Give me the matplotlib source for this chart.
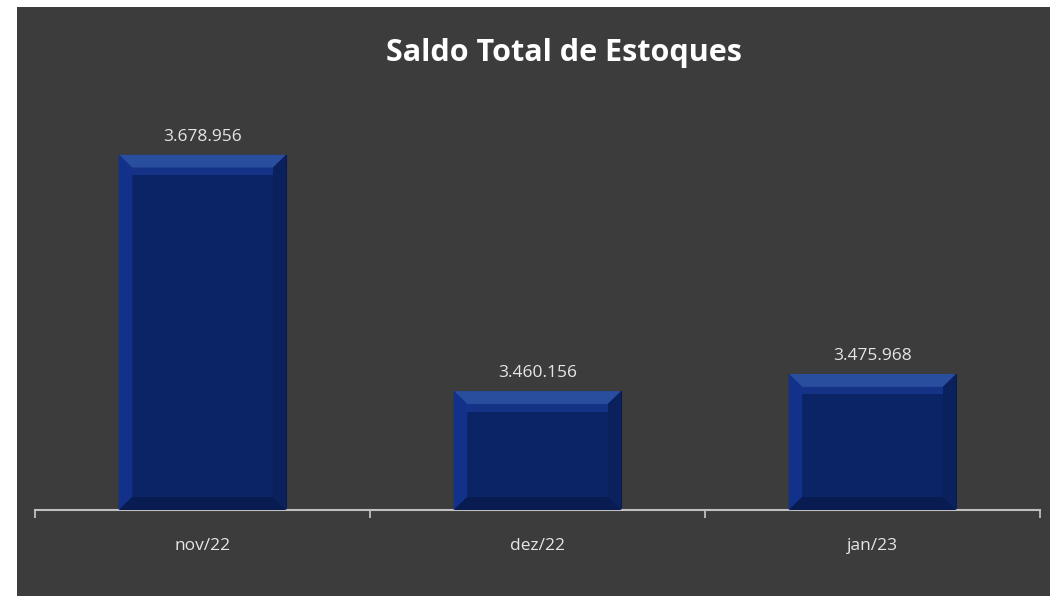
import matplotlib
matplotlib.use("Agg")
import matplotlib.pyplot as plt
from matplotlib.patches import Rectangle, Polygon

meses = ["nov/22", "dez/22", "jan/23"]
saldos = [3678956, 3460156, 3475968]
rotulos = ["3.678.956", "3.460.156", "3.475.968"]

plt.rcParams['font.family'] = ['Open Sans', 'DejaVu Sans']

fundo = "#3c3c3c"
fig = plt.figure(figsize=(10.5, 5.96), dpi=100, facecolor="white")
fig.patches.append(Rectangle((17 / 1050, 0), 1 - 17 / 1050, 1 - 7 / 596,
                             transform=fig.transFigure, facecolor=fundo,
                             edgecolor="none", zorder=-1))

ax = fig.add_axes([35 / 1050, 86 / 596, 1005 / 1050, 378 / 596])
ax.set_facecolor("none")
ymin, ymax = 3350000, 3700000
ax.set_ylim(ymin, ymax)
ax.set_xlim(-0.5, len(meses) - 0.5)

largura = 0.5
bx = 0.04       # bevel em x
by = 12000      # bevel em y
for i, v in enumerate(saldos):
    x0, x1 = i - largura / 2, i + largura / 2
    ax.bar(i, v - ymin, bottom=ymin, width=largura, color="#0b2466",
           edgecolor="#08194a", linewidth=0.8, zorder=2)
    # faces chanfradas
    ax.add_patch(Polygon([(x0, v), (x1, v), (x1 - bx, v - by), (x0 + bx, v - by)],
                         closed=True, facecolor="#2a4e9e", edgecolor="none", zorder=3))
    ax.add_patch(Polygon([(x0, v), (x0 + bx, v - by), (x0 + bx, ymin + by), (x0, ymin)],
                         closed=True, facecolor="#12318a", edgecolor="none", zorder=3))
    ax.add_patch(Polygon([(x1, v), (x1 - bx, v - by), (x1 - bx, ymin + by), (x1, ymin)],
                         closed=True, facecolor="#0a215e", edgecolor="none", zorder=3))
    ax.add_patch(Polygon([(x0, ymin), (x0 + bx, ymin + by), (x1 - bx, ymin + by), (x1, ymin)],
                         closed=True, facecolor="#081c52", edgecolor="none", zorder=3))
    ax.add_patch(Rectangle((x0 + bx, v - by - 7000), largura - 2 * bx, 7000,
                           facecolor="#143386", edgecolor="none", zorder=3))
    ax.text(i, v + 9000, rotulos[i], ha="center", va="bottom",
            color="#e6e6e6", fontsize=12.5)

ax.set_xticks(range(len(meses)))
ax.set_xticklabels(meses, color="#e6e6e6", fontsize=12.5)
ax.tick_params(axis="x", which="major", length=0, pad=20)
ax.set_xticks([-0.5, 0.5, 1.5, 2.5], minor=True)
ax.tick_params(axis="x", which="minor", length=6, width=1.3, color="#bfbfbf", direction="out")
ax.set_yticks([])
for lado in ["top", "left", "right"]:
    ax.spines[lado].set_visible(False)
ax.spines["bottom"].set_color("#bfbfbf")
ax.spines["bottom"].set_linewidth(1.5)

fig.text(564 / 1050, 1 - 53 / 596, "Saldo Total de Estoques", ha="center", va="center",
         color="white", fontsize=22, fontweight="bold")

fig.savefig("out.png", dpi=100, facecolor="white")
